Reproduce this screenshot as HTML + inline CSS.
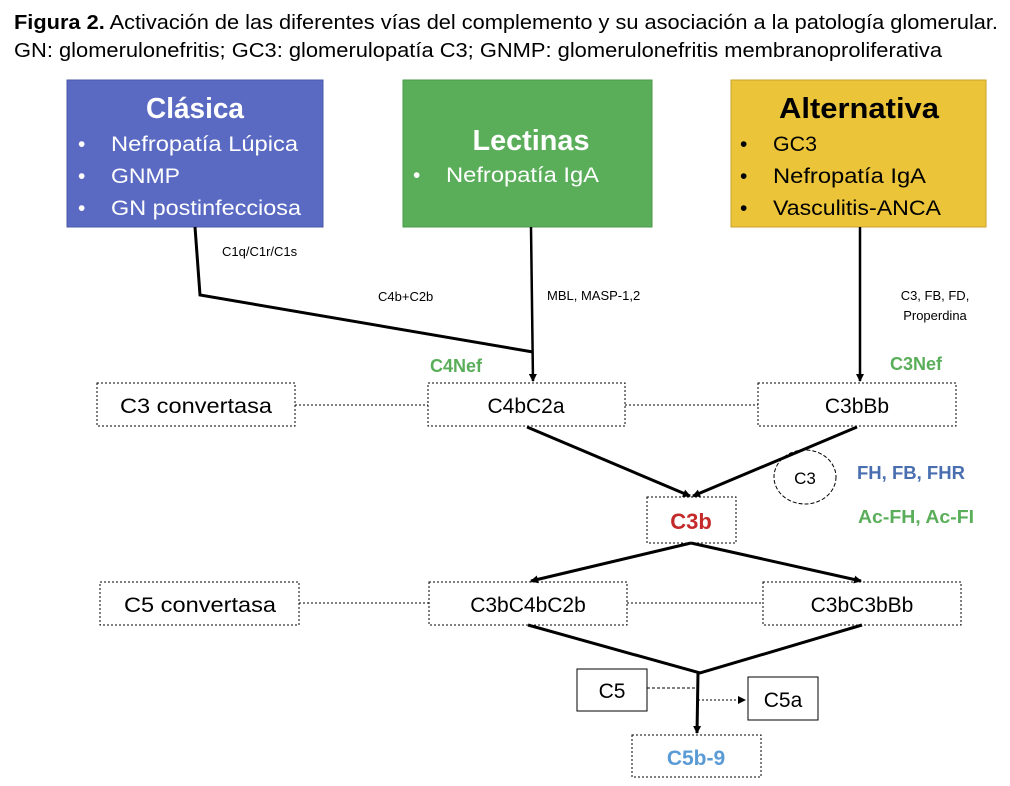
<!DOCTYPE html>
<html><head><meta charset="utf-8"><style>
body{margin:0;background:#fff;}
svg{display:block;font-family:"Liberation Sans",sans-serif;}
</style></head><body>
<svg width="1010" height="786" viewBox="0 0 1010 786" xmlns="http://www.w3.org/2000/svg">
<defs><marker id="a" markerWidth="8" markerHeight="8" refX="7" refY="4" orient="auto" markerUnits="userSpaceOnUse"><path d="M0,0 L8,4 L0,8 z" fill="#000"/></marker></defs>
<text x="14" y="29" font-size="20" textLength="984" lengthAdjust="spacingAndGlyphs"><tspan font-weight="bold">Figura 2.</tspan> Activación de las diferentes vías del complemento y su asociación a la patología glomerular.</text>
<text x="14" y="57" font-size="20" textLength="928" lengthAdjust="spacingAndGlyphs">GN: glomerulonefritis; GC3: glomerulopatía C3; GNMP: glomerulonefritis membranoproliferativa</text>

<rect x="67" y="80" width="256" height="147" fill="#5a6ac2" stroke="#4a58a8"/>
<text x="195" y="118" font-size="29" font-weight="bold" fill="#fff" text-anchor="middle" textLength="98" lengthAdjust="spacingAndGlyphs">Clásica</text>
<g fill="#fff" font-size="21"><text x="78" y="151">•</text><text x="111" y="151" textLength="187" lengthAdjust="spacingAndGlyphs">Nefropatía Lúpica</text>
<text x="78" y="183">•</text><text x="111" y="183" textLength="69" lengthAdjust="spacingAndGlyphs">GNMP</text>
<text x="78" y="215">•</text><text x="111" y="215" textLength="190" lengthAdjust="spacingAndGlyphs">GN postinfecciosa</text></g>

<rect x="403" y="80" width="249" height="147" fill="#5aae5a" stroke="#4a984a"/>
<text x="531" y="150" font-size="29" font-weight="bold" fill="#fff" text-anchor="middle" textLength="117" lengthAdjust="spacingAndGlyphs">Lectinas</text>
<g fill="#fff" font-size="21"><text x="413" y="182">•</text><text x="446" y="182" textLength="153" lengthAdjust="spacingAndGlyphs">Nefropatía IgA</text></g>

<rect x="731" y="80" width="255" height="147" fill="#ebc43a" stroke="#c8a22a"/>
<text x="859" y="118" font-size="29" font-weight="bold" fill="#000" text-anchor="middle" textLength="160" lengthAdjust="spacingAndGlyphs">Alternativa</text>
<g fill="#000" font-size="21"><text x="740" y="151">•</text><text x="773" y="151" textLength="44" lengthAdjust="spacingAndGlyphs">GC3</text>
<text x="740" y="183">•</text><text x="773" y="183" textLength="153" lengthAdjust="spacingAndGlyphs">Nefropatía IgA</text>
<text x="740" y="215">•</text><text x="773" y="215" textLength="168" lengthAdjust="spacingAndGlyphs">Vasculitis-ANCA</text></g>

<g font-size="13" fill="#000">
<text x="222" y="256">C1q/C1r/C1s</text>
<text x="378" y="301">C4b+C2b</text>
<text x="547" y="300">MBL, MASP-1,2</text>
<text x="935" y="300" text-anchor="middle">C3, FB, FD,</text>
<text x="935" y="320" text-anchor="middle">Properdina</text>
</g>
<text x="430" y="372" font-size="18" font-weight="bold" fill="#5aae5a">C4Nef</text>
<text x="890" y="370" font-size="18" font-weight="bold" fill="#5aae5a">C3Nef</text>
<text x="857" y="479" font-size="18" font-weight="bold" fill="#4a6fb0" textLength="108" lengthAdjust="spacingAndGlyphs">FH, FB, FHR</text>
<text x="858" y="523" font-size="18" font-weight="bold" fill="#5aae5a" textLength="116" lengthAdjust="spacingAndGlyphs">Ac-FH, Ac-FI</text>

<g fill="#fff" stroke="#000" stroke-width="1" stroke-dasharray="2,2">
<rect x="97" y="383" width="198" height="43"/>
<rect x="428" y="383" width="197" height="43"/>
<rect x="758" y="383" width="198" height="43"/>
<rect x="647" y="497" width="89" height="46"/>
<rect x="100" y="582" width="199" height="43"/>
<rect x="429" y="582" width="198" height="43"/>
<rect x="763" y="582" width="198" height="43"/>
<rect x="632" y="735" width="129" height="42"/>
<line x1="295" y1="405" x2="428" y2="405"/>
<line x1="625" y1="405" x2="758" y2="405"/>
<line x1="299" y1="603" x2="429" y2="603"/>
<line x1="627" y1="603" x2="763" y2="603"/>
</g>
<ellipse cx="805" cy="477" rx="31" ry="27" fill="none" stroke="#000" stroke-dasharray="4,2"/>
<rect x="577" y="669" width="70" height="42" fill="#fff" stroke="#000"/>
<rect x="748" y="677" width="70" height="43" fill="#fff" stroke="#000"/>

<g font-size="21" fill="#000" text-anchor="middle">
<text x="196" y="413" textLength="152" lengthAdjust="spacingAndGlyphs">C3 convertasa</text>
<text x="526" y="413">C4bC2a</text>
<text x="857" y="413">C3bBb</text>
<text x="200" y="612" textLength="152" lengthAdjust="spacingAndGlyphs">C5 convertasa</text>
<text x="528" y="612">C3bC4bC2b</text>
<text x="862" y="612">C3bC3bBb</text>
<text x="612" y="698">C5</text>
<text x="783" y="707">C5a</text>
<text x="805" y="484" font-size="17">C3</text>
</g>
<text x="691" y="529" font-size="22" font-weight="bold" fill="#c42a2a" text-anchor="middle">C3b</text>
<text x="696" y="765" font-size="21" font-weight="bold" fill="#5b9bd5" text-anchor="middle">C5b-9</text>

<g stroke="#000" stroke-width="3" fill="none">
<polyline points="195,227 200,295 533,352"/>
<line x1="531" y1="227" x2="533" y2="381" stroke-width="2.5" marker-end="url(#a)"/>
<line x1="860" y1="227" x2="860" y2="381" stroke-width="2.5" marker-end="url(#a)"/>
<line x1="527" y1="427" x2="690" y2="496" marker-end="url(#a)"/>
<line x1="857" y1="427" x2="693" y2="496" marker-end="url(#a)"/>
<line x1="691" y1="543" x2="531" y2="581" marker-end="url(#a)"/>
<line x1="691" y1="543" x2="861" y2="581" marker-end="url(#a)"/>
<polyline points="528,625 700,673 862,625"/>
<line x1="698" y1="673" x2="697" y2="733" marker-end="url(#a)"/>
</g>
<line x1="647" y1="688" x2="697" y2="688" stroke="#000" stroke-dasharray="3,2"/>
<line x1="698" y1="700" x2="745" y2="700" stroke="#000" stroke-dasharray="2,2" marker-end="url(#a)"/>
</svg>
</body></html>
